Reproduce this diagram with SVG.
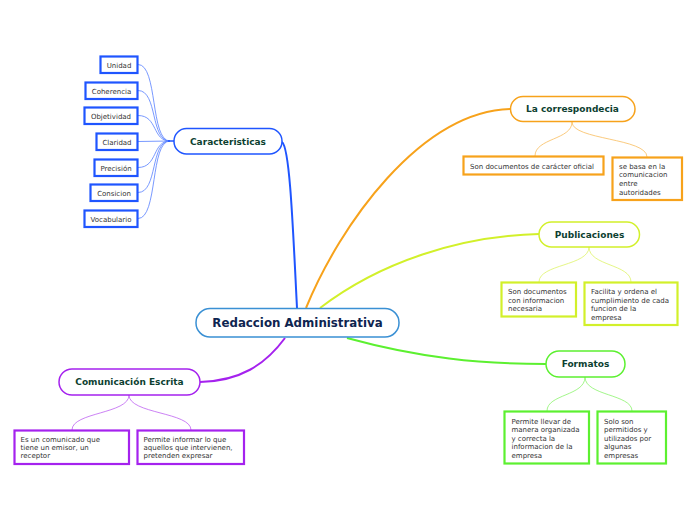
<svg xmlns="http://www.w3.org/2000/svg" width="696" height="520" viewBox="0 0 696 520">
<style>
text{font-family:"DejaVu Sans",Verdana,sans-serif}
.leaf{fill:#fff;stroke-width:2.2}
.node{fill:#fff;stroke-width:1.5}
.lt{font-size:7px;fill:#333}
.nt{font-size:9px;font-weight:bold;fill:#0d3f31;text-anchor:middle}
.c{fill:none}
.blue{stroke:#1f55ff}
.orange{stroke:#f7a21b}
.yellow{stroke:#d2f02a}
.green{stroke:#5cf030}
.purple{stroke:#a522ee}
</style>
<rect width="696" height="520" fill="#fff"/>
<g id="connectors">
<path class="c blue" stroke-width="2" d="M282,142 C290,148 293,230 297,308"/>
<path class="c orange" stroke-width="2" d="M306,308 C340,225 420,112 510,109"/>
<path class="c yellow" stroke-width="2" d="M320,308 C380,262 460,236 539,234"/>
<path class="c green" stroke-width="2" d="M347,338 C420,358 480,364 546,364"/>
<path class="c purple" stroke-width="2" d="M285,338 C265,365 240,381 200,382"/>
<g class="c blue" stroke-width="0.8" opacity="0.75">
<path d="M138,64.5 C158,64.5 150,141 170,141"/>
<path d="M138,90.5 C158,90.5 150,141 170,141"/>
<path d="M138,115.5 C158,115.5 152,141 170,141"/>
<path d="M138,141.5 L170,141"/>
<path d="M138,167.5 C158,167.5 152,141 170,141"/>
<path d="M138,192.5 C158,192.5 150,141 170,141"/>
<path d="M138,218.5 C158,218.5 150,141 170,141"/>
</g>
<path class="c blue" stroke-width="1.5" d="M168,141 L174,141"/>
<g class="c orange" stroke-width="0.8" opacity="0.7">
<path d="M572,122 C572,140 535,138 535,156"/>
<path d="M572,122 C572,140 647,138 647,157"/>
</g>
<g class="c yellow" stroke-width="0.8" opacity="0.7">
<path d="M589,247 C589,266 539,264 539,282"/>
<path d="M589,247 C589,266 631,264 631,282"/>
</g>
<g class="c green" stroke-width="0.8" opacity="0.7">
<path d="M585,377 C585,396 547,394 547,411"/>
<path d="M585,377 C585,396 632,394 632,411"/>
</g>
<g class="c purple" stroke-width="0.8" opacity="0.7">
<path d="M129,395 C129,414 72,412 72,430"/>
<path d="M129,395 C129,414 191,412 191,430"/>
</g>
</g>
<g id="root">
<rect x="196" y="308.5" width="203" height="28.5" rx="14" fill="#fff" stroke="#3a90d4" stroke-width="1.5"/>
<text x="297.5" y="327.3" font-size="11.8" font-weight="bold" fill="#0e2550" text-anchor="middle">Redaccion Administrativa</text>
</g>
<g id="caracteristicas">
<rect class="node blue" x="174" y="128.5" width="108" height="25.5" rx="12.5"/>
<text class="nt" x="228" y="144.5">Caracteristicas</text>
</g>
<g id="unidad"><rect class="leaf blue" x="100.5" y="56.5" width="37" height="16.5"/><text class="lt" x="119" y="67.5" text-anchor="middle">Unidad</text></g>
<g id="coherencia"><rect class="leaf blue" x="85.5" y="82.5" width="52" height="16.5"/><text class="lt" x="111.5" y="93.5" text-anchor="middle">Coherencia</text></g>
<g id="objetividad"><rect class="leaf blue" x="84.5" y="107.5" width="53" height="16.5"/><text class="lt" x="111" y="118.5" text-anchor="middle">Objetividad</text></g>
<g id="claridad"><rect class="leaf blue" x="96.5" y="133.5" width="41" height="16.5"/><text class="lt" x="117" y="144.5" text-anchor="middle">Claridad</text></g>
<g id="precision"><rect class="leaf blue" x="94.5" y="159.5" width="43" height="16.5"/><text class="lt" x="116" y="170.5" text-anchor="middle">Precisión</text></g>
<g id="consicion"><rect class="leaf blue" x="90.5" y="184.5" width="47" height="16.5"/><text class="lt" x="114" y="195.5" text-anchor="middle">Consicion</text></g>
<g id="vocabulario"><rect class="leaf blue" x="84.5" y="210.5" width="53" height="16.5"/><text class="lt" x="111" y="221.5" text-anchor="middle">Vocabulario</text></g>
<g id="correspondecia">
<rect class="node orange" x="510.5" y="96.5" width="124.5" height="25" rx="12.5"/>
<text class="nt" x="572.5" y="112.2">La correspondecia</text>
</g>
<g id="corr1"><rect class="leaf orange" x="463.5" y="156.5" width="140" height="18"/><text class="lt" x="470" y="168.5">Son documentos de carácter oficial</text></g>
<g id="corr2"><rect class="leaf orange" x="612.5" y="157.5" width="69.5" height="42.5"/><text class="lt" x="619"><tspan x="619" y="168.5">se basa en la</tspan><tspan x="619" y="177">comunicacion</tspan><tspan x="619" y="185.5">entre</tspan><tspan x="619" y="194.5">autoridades</tspan></text></g>
<g id="publicaciones">
<rect class="node yellow" x="539" y="222" width="100.5" height="25" rx="12.5"/>
<text class="nt" x="589.5" y="237.7">Publicaciones</text>
</g>
<g id="pub1"><rect class="leaf yellow" x="501.5" y="282.5" width="74.5" height="34"/><text class="lt"><tspan x="508" y="294">Son documentos</tspan><tspan x="508" y="302.7">con informacion</tspan><tspan x="508" y="311.2">necesaria</tspan></text></g>
<g id="pub2"><rect class="leaf yellow" x="584.5" y="282.5" width="93" height="42.5"/><text class="lt"><tspan x="591" y="294">Facilita y ordena el</tspan><tspan x="591" y="302.7">cumplimiento de cada</tspan><tspan x="591" y="311.3">funcion de la</tspan><tspan x="591" y="319.8">empresa</tspan></text></g>
<g id="formatos">
<rect class="node green" x="546" y="351" width="79" height="26" rx="13"/>
<text class="nt" x="585.5" y="367.2">Formatos</text>
</g>
<g id="form1"><rect class="leaf green" x="504.5" y="411.5" width="84.5" height="52"/><text class="lt"><tspan x="511.5" y="423.5">Permite llevar de</tspan><tspan x="511.5" y="432">manera organizada</tspan><tspan x="511.5" y="440.5">y correcta la</tspan><tspan x="511.5" y="449.2">informacion de la</tspan><tspan x="511.5" y="457.7">empresa</tspan></text></g>
<g id="form2"><rect class="leaf green" x="597.5" y="411.5" width="68.5" height="52"/><text class="lt"><tspan x="604" y="423.5">Solo son</tspan><tspan x="604" y="432">permitidos y</tspan><tspan x="604" y="440.5">utilizados por</tspan><tspan x="604" y="449.2">algunas</tspan><tspan x="604" y="457.7">empresas</tspan></text></g>
<g id="comunicacion">
<rect class="node purple" x="59" y="369" width="141" height="26" rx="13"/>
<text class="nt" x="129.5" y="385.2">Comunicación Escrita</text>
</g>
<g id="com1"><rect class="leaf purple" x="14.5" y="430.5" width="114.5" height="33.5"/><text class="lt"><tspan x="20.5" y="441.5">Es un comunicado que</tspan><tspan x="20.5" y="449.8">tiene un emisor, un</tspan><tspan x="20.5" y="458.3">receptor</tspan></text></g>
<g id="com2"><rect class="leaf purple" x="137.5" y="430.5" width="106.5" height="33.5"/><text class="lt"><tspan x="143.5" y="441.5">Permite informar lo que</tspan><tspan x="143.5" y="449.8">aquellos que intervienen,</tspan><tspan x="143.5" y="458.3">pretenden expresar</tspan></text></g>
</svg>
